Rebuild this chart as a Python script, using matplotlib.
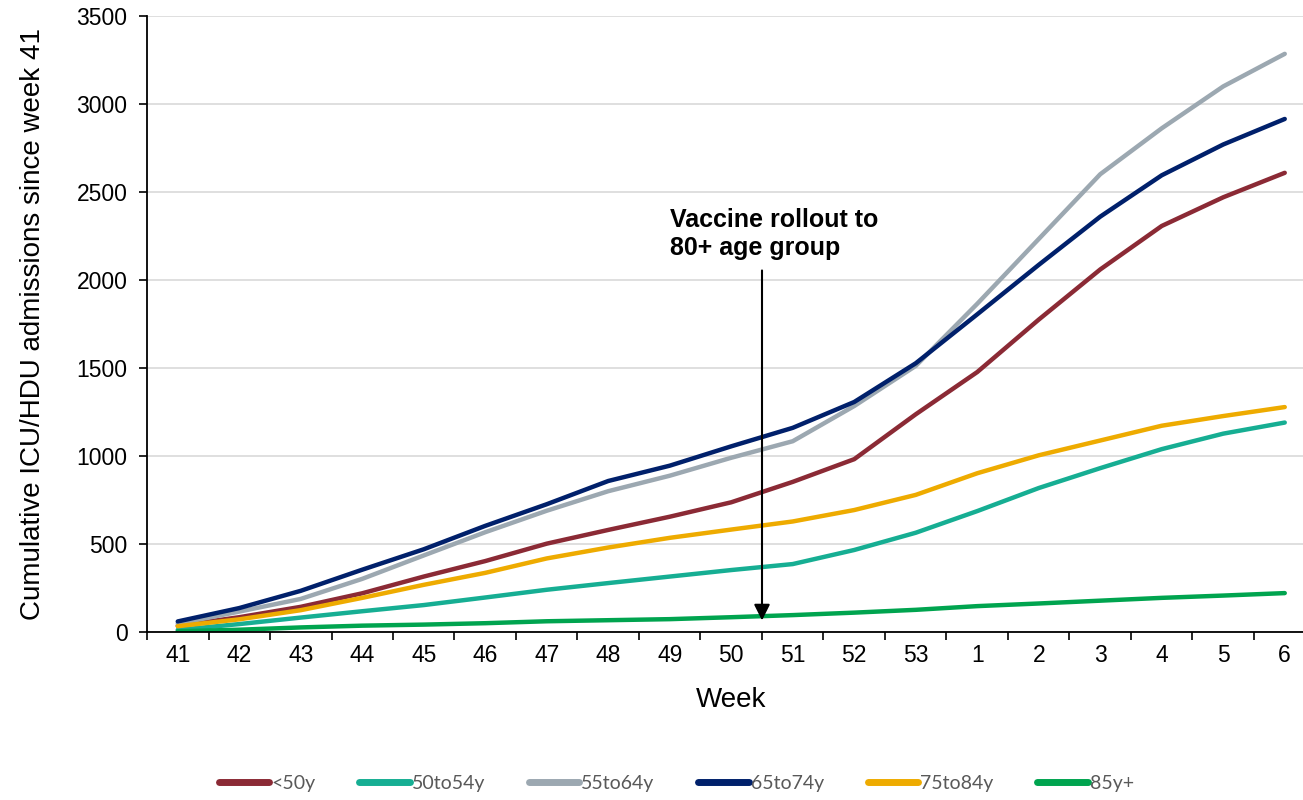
import numpy as np
import matplotlib.pyplot as plt
from matplotlib.ticker import FixedLocator

# week labels on the x axis
weeks = ["41", "42", "43", "44", "45", "46", "47", "48", "49", "50", "51", "52", "53",
         "1", "2", "3", "4", "5", "6"]

# cumulative ICU/HDU admissions per age group
under50 = [35, 84, 143, 220, 315, 403, 502, 580, 655, 737, 853, 982, 1237, 1477, 1775, 2060, 2307, 2470, 2609]
age50to54 = [12, 45, 82, 118, 153, 196, 240, 278, 315, 352, 386, 466, 564, 687, 818, 931, 1039, 1127, 1190]
age55to64 = [47, 116, 188, 302, 435, 567, 689, 800, 888, 990, 1084, 1284, 1512, 1865, 2233, 2601, 2862, 3100, 3285]
age65to74 = [60, 136, 234, 354, 470, 603, 726, 858, 945, 1055, 1160, 1307, 1527, 1805, 2086, 2360, 2595, 2770, 2915]
age75to84 = [33, 72, 124, 194, 268, 336, 418, 480, 535, 582, 628, 693, 779, 902, 1004, 1088, 1172, 1227, 1278]
age85plus = [4, 13, 26, 36, 42, 50, 61, 67, 73, 84, 96, 110, 126, 147, 162, 178, 194, 207, 221]

series = [("<50y", under50, "#8B2A35"),
          ("50to54y", age50to54, "#16AE93"),
          ("55to64y", age55to64, "#9CA8B1"),
          ("65to74y", age65to74, "#00206B"),
          ("75to84y", age75to84, "#EEAB00"),
          ("85y+", age85plus, "#00A44F")]

plt.rcParams['font.family'] = ['Liberation Sans', 'DejaVu Sans']

fig = plt.figure(figsize=(13.03, 8), dpi=100)
ax = fig.add_axes([147 / 1303, 0.21, 1168.5 / 1303, 0.77])

x = np.arange(len(weeks))
for name, vals, col in series:
    ax.plot(x, vals, color=col, linewidth=3.2, label=name, solid_capstyle='round',
            solid_joinstyle='round')

ax.set_xlim(-0.5, len(weeks) - 0.5)
ax.set_ylim(0, 3500)
ax.set_yticks(np.arange(0, 3501, 500))
ax.set_xticks(x)
ax.set_xticklabels(weeks)
ax.xaxis.set_minor_locator(FixedLocator(np.arange(-0.5, len(weeks), 1.0)))
ax.tick_params(axis='x', which='major', length=0, labelsize=16.5, pad=9)
ax.tick_params(axis='x', which='minor', length=6, width=1.2, direction='out')
ax.tick_params(axis='y', length=6, width=1.2, labelsize=16.5, pad=8)
ax.grid(axis='y', color='#D9D9D9', linewidth=1.2)
ax.set_axisbelow(True)
for s in ['top', 'right']:
    ax.spines[s].set_visible(False)
for s in ['left', 'bottom']:
    ax.spines[s].set_linewidth(1.3)

ax.set_xlabel("Week", fontsize=20, labelpad=14)
ax.set_ylabel("Cumulative ICU/HDU admissions since week 41", fontsize=20, labelpad=22)

ax.annotate("", xy=(9.5, 50), xytext=(9.5, 2070),
            arrowprops=dict(arrowstyle='-|>', color='black', lw=1.5, mutation_scale=24))
ax.text(8.0, 2410, "Vaccine rollout to\n80+ age group", fontsize=18, fontweight='bold',
        ha='left', va='top', linespacing=1.2)

leg = fig.legend(loc='center', bbox_to_anchor=(0.519, 0.021), ncol=6, frameon=False,
                 prop={'family': 'Lato', 'size': 14}, handlelength=2.6,
                 handletextpad=0.1, columnspacing=2.25)
for t in leg.get_texts():
    t.set_color('#595959')
for h in leg.get_lines():
    h.set_linewidth(5)
    h.set_solid_capstyle('round')

fig.savefig("out.png", dpi=100)
